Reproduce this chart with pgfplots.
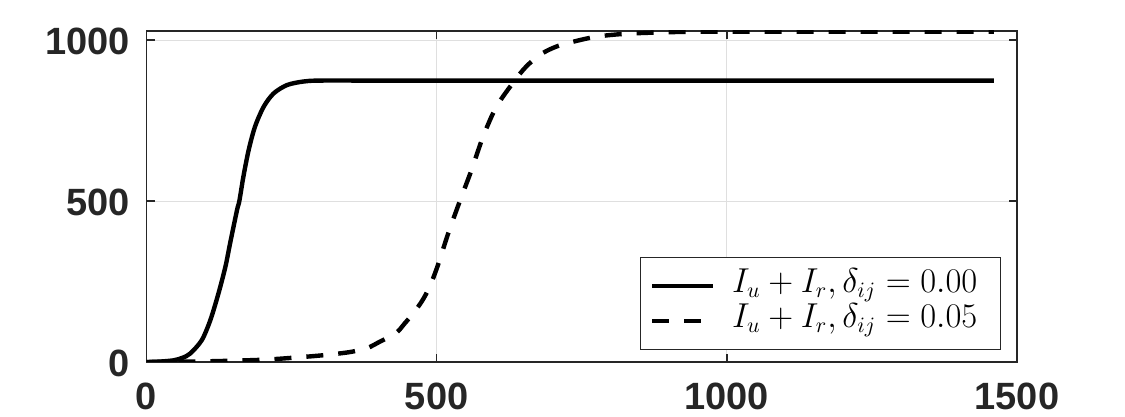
\documentclass[border=0pt]{standalone}
\usepackage[no-math]{fontspec}
\setmainfont{Liberation Sans}
\usepackage{pgfplots}
\pgfplotsset{compat=1.18}
\definecolor{axgray}{HTML}{262626}
\definecolor{gridgray}{HTML}{DFDFDF}
\begin{document}
\begin{tikzpicture}
\path[use as bounding box] (0,0) rectangle (562.5pt,208.5pt);
\begin{axis}[
  at={(73.25pt,27.5pt)}, anchor=south west,
  scale only axis, width=435.25pt, height=165.5pt,
  xmin=0, xmax=1500, ymin=0, ymax=1028,
  xtick={0,500,1000,1500}, ytick={0,500,1000},
  tick align=inside, major tick length=4pt,
  grid=major,
  major grid style={gridgray, line width=0.5pt},
  axis line style={axgray, line width=0.7pt},
  tick style={axgray, line width=0.7pt},
  /pgf/number format/assume math mode=true,
  /pgf/number format/set thousands separator={},
  tick label style={font=\bfseries\fontsize{19}{19}\selectfont, text=axgray, inner sep=0pt},
  xticklabel style={yshift=-10.5pt},
  yticklabel style={xshift=-8pt, yshift=-0.75pt},
  legend style={at={(1,0)}, anchor=south east, xshift=-8pt, yshift=6pt,
    draw=axgray, line width=0.7pt, fill=white,
    font=\fontsize{16}{16}\selectfont, row sep=0pt, column sep=0pt,
    inner xsep=4.5pt, inner ysep=5.5pt,
    nodes={inner xsep=0pt, inner ysep=0pt, text height=12pt, text depth=5.5pt}},
  legend cell align=left,
  legend image code/.code={\draw[#1] (0pt,0pt) -- (30.5pt,0pt);},
]
\addplot[black, line width=2.2pt, smooth, tension=0.5] coordinates {
(0,0) (20,1) (46,5) (62,13) (75,26) (95,67) (110,130) (124,213) (136,296)
(144,368) (156,472) (160,500) (167,576) (176,658) (187,731) (202,793)
(219,834) (242,860) (270,871) (299,874) (400,874) (700,874) (1460,874)
};
\addlegendentry{\hspace*{8.5pt}$I_u + I_r, \delta_{ij} = 0.00$\hspace*{7pt}}
\addplot[black, line width=2.2pt, dash pattern=on 8.5pt off 7.5pt, smooth, tension=0.5] coordinates {
(0,0) (100,2) (200,7) (265,15) (310,22) (351,31) (380,43) (402,63) (430,90)
(445,120) (460,152) (475,190) (488,234) (502,300) (520,400) (540,500)
(560,596) (580,700) (603,793) (634,873) (654,917) (677,953) (700,975)
(723,989) (774,1010) (832,1020) (918,1025) (1000,1026) (1200,1026) (1460,1026)
};
\addlegendentry{\hspace*{8.5pt}$I_u + I_r, \delta_{ij} = 0.05$\hspace*{7pt}}
\end{axis}
\end{tikzpicture}
\end{document}
